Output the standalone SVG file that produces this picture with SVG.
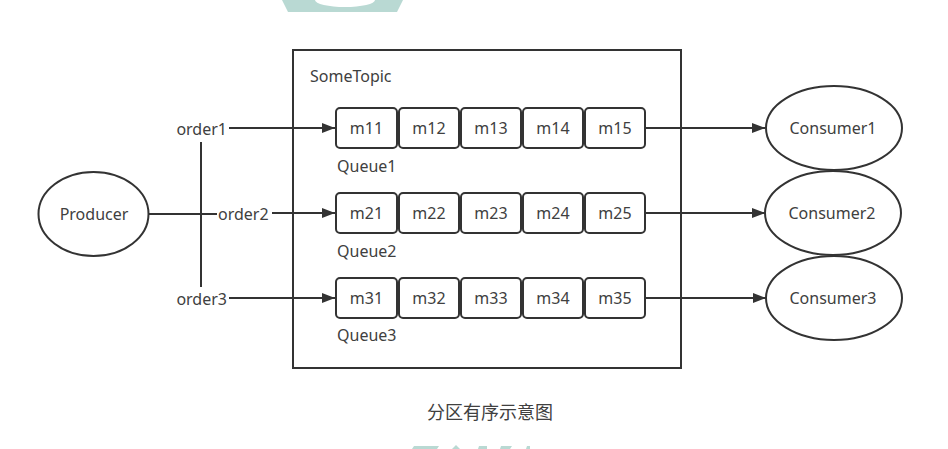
<svg xmlns="http://www.w3.org/2000/svg" width="948" height="449" viewBox="0 0 948 449">
<defs>
<style>
.t{font-family:"Noto Sans","Liberation Sans",sans-serif;font-size:16px;fill:#404040}
.c{font-family:"Noto Sans CJK SC",sans-serif;font-size:18px;fill:#404040}
.ln{stroke:#333;stroke-width:2;fill:none}
.box{stroke:#333;stroke-width:2;fill:#fff}
.el{stroke:#333;stroke-width:2;fill:#fff}
.wm{fill:#b9d9d3}
</style>
<marker id="ah" markerWidth="14" markerHeight="12" refX="13" refY="6" orient="auto" markerUnits="userSpaceOnUse">
<path d="M0,1 L13,6 L0,11 Z" fill="#333"/>
</marker>
</defs>
<rect width="948" height="449" fill="#fff"/>
<g id="watermark">
<path class="wm" d="M282,0 L403,0 L397,12 L288,12 Z"/>
<path d="M315,0 A30,7 0 0 0 375,0 Z" fill="#fff"/>
<path class="wm" d="M412,449 L414,446 L439,446 L437,449 Z M452,449 L456,445 L460,449 Z M478,449 L479,446 L487,446 L487,449 Z M500,449 L501,446 L512,446 L510,449 Z M526,449 L527,446 L530,446 L530,449 Z"/>
</g>
<g id="topic">
<rect x="293" y="50" width="388" height="318" class="box" fill="none" style="fill:none"/>
<text class="t" x="310" y="82">SomeTopic</text>
</g>
<g id="connectors">
<line class="ln" x1="149" y1="214" x2="217" y2="214"/>
<line class="ln" x1="201" y1="142" x2="201" y2="287"/>
<line class="ln" x1="229" y1="128" x2="335" y2="128" marker-end="url(#ah)"/>
<line class="ln" x1="272" y1="213" x2="335" y2="213" marker-end="url(#ah)"/>
<line class="ln" x1="229" y1="298" x2="335" y2="298" marker-end="url(#ah)"/>
<line class="ln" x1="645" y1="128" x2="765" y2="128" marker-end="url(#ah)"/>
<line class="ln" x1="645" y1="213" x2="765" y2="213" marker-end="url(#ah)"/>
<line class="ln" x1="645" y1="298" x2="766" y2="298" marker-end="url(#ah)"/>
<text class="t" x="227" y="135" text-anchor="end">order1</text>
<text class="t" x="218" y="220">order2</text>
<text class="t" x="227" y="305" text-anchor="end">order3</text>
</g>
<g id="producer">
<ellipse class="el" cx="93.5" cy="214" rx="55" ry="42"/>
<text class="t" x="94" y="219.5" text-anchor="middle">Producer</text>
</g>
<g id="queue1">
<rect class="box" x="336" y="108" width="61" height="40" rx="4"/>
<rect class="box" x="399" y="108" width="60" height="40" rx="4"/>
<rect class="box" x="461" y="108" width="60" height="40" rx="4"/>
<rect class="box" x="523" y="108" width="60" height="40" rx="4"/>
<rect class="box" x="585" y="108" width="60" height="40" rx="4"/>
<text class="t" x="366.5" y="134" text-anchor="middle">m11</text>
<text class="t" x="429" y="134" text-anchor="middle">m12</text>
<text class="t" x="491" y="134" text-anchor="middle">m13</text>
<text class="t" x="553" y="134" text-anchor="middle">m14</text>
<text class="t" x="615" y="134" text-anchor="middle">m15</text>
<text class="t" x="337" y="172">Queue1</text>
</g>
<g id="queue2">
<rect class="box" x="336" y="193" width="61" height="40" rx="4"/>
<rect class="box" x="399" y="193" width="60" height="40" rx="4"/>
<rect class="box" x="461" y="193" width="60" height="40" rx="4"/>
<rect class="box" x="523" y="193" width="60" height="40" rx="4"/>
<rect class="box" x="585" y="193" width="60" height="40" rx="4"/>
<text class="t" x="366.5" y="219" text-anchor="middle">m21</text>
<text class="t" x="429" y="219" text-anchor="middle">m22</text>
<text class="t" x="491" y="219" text-anchor="middle">m23</text>
<text class="t" x="553" y="219" text-anchor="middle">m24</text>
<text class="t" x="615" y="219" text-anchor="middle">m25</text>
<text class="t" x="337" y="257">Queue2</text>
</g>
<g id="queue3">
<rect class="box" x="336" y="278" width="61" height="40" rx="4"/>
<rect class="box" x="399" y="278" width="60" height="40" rx="4"/>
<rect class="box" x="461" y="278" width="60" height="40" rx="4"/>
<rect class="box" x="523" y="278" width="60" height="40" rx="4"/>
<rect class="box" x="585" y="278" width="60" height="40" rx="4"/>
<text class="t" x="366.5" y="304" text-anchor="middle">m31</text>
<text class="t" x="429" y="304" text-anchor="middle">m32</text>
<text class="t" x="491" y="304" text-anchor="middle">m33</text>
<text class="t" x="553" y="304" text-anchor="middle">m34</text>
<text class="t" x="615" y="304" text-anchor="middle">m35</text>
<text class="t" x="337" y="341">Queue3</text>
</g>
<g id="consumer1">
<ellipse class="el" cx="834" cy="128" rx="68" ry="42"/>
<text class="t" x="833" y="134" text-anchor="middle">Consumer1</text>
</g>
<g id="consumer2">
<ellipse class="el" cx="833" cy="213" rx="68" ry="42"/>
<text class="t" x="832" y="219" text-anchor="middle">Consumer2</text>
</g>
<g id="consumer3">
<ellipse class="el" cx="834" cy="298" rx="68" ry="42"/>
<text class="t" x="833" y="304" text-anchor="middle">Consumer3</text>
</g>
<g id="caption">
<text class="c" x="490" y="419" text-anchor="middle">分区有序示意图</text>
</g>
</svg>
